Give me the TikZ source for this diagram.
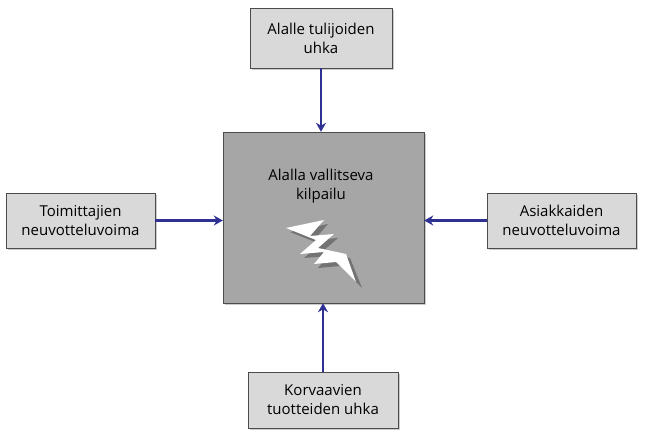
\documentclass[tikz,border=0pt]{standalone}
\usepackage{fontspec}
\setmainfont{Open Sans}
\usetikzlibrary{arrows.meta,shadows}
\definecolor{arr}{HTML}{2E3192}
\tikzset{
 sbox/.style={draw=black!70,fill=black!15,minimum width=#1,align=center,font=\fontsize{15}{19}\selectfont,drop shadow={shadow xshift=2pt,shadow yshift=-2pt,opacity=.4}},
 conn/.style={draw=arr,line width=2.6pt,-{Stealth[length=9pt,width=10pt]}}
}
\begin{document}
\begin{tikzpicture}[x=1pt,y=-1pt]
\useasboundingbox (0,0) rectangle (647,438);
\node[sbox=142pt,minimum height=60pt] (t) at (321,38) {Alalle tulijoiden\\uhka};
\node[sbox=149pt,minimum height=55pt] (l) at (80.5,220.5) {Toimittajien\\neuvotteluvoima};
\node[sbox=149pt,minimum height=55pt] (r) at (561.5,220.5) {Asiakkaiden\\neuvotteluvoima};
\node[sbox=150pt,minimum height=56pt] (b) at (323,400) {Korvaavien\\tuotteiden uhka};
\node[draw=black!70,fill=black!35,minimum width=201pt,minimum height=171pt,drop shadow={shadow xshift=2pt,shadow yshift=-2pt,opacity=.4}] (c) at (323.5,217.5) {};
\node[align=center,font=\fontsize{15}{19}\selectfont] (ct) at (321,186) {Alalla vallitseva\\kilpailu};
\fill[black!55] (290,232)--(328,224)--(314,240)--(338,238)--(322,252)--(350,258)--(362,288)--(340,266)--(318,268)--(328,256)--(304,258)--(320,244)--cycle;
\fill[white] (286,228)--(324,220)--(310,236)--(334,234)--(318,248)--(346,254)--(356,282)--(336,262)--(314,264)--(324,252)--(300,254)--(316,240)--cycle;
\draw[conn] (t.south) -- (c.north -| t.south);
\draw[conn] (l.east) -- (c.west |- l.east);
\draw[conn] (r.west) -- (c.east |- r.west);
\draw[conn] (b.north) -- (c.south -| b.north);
\end{tikzpicture}
\end{document}
